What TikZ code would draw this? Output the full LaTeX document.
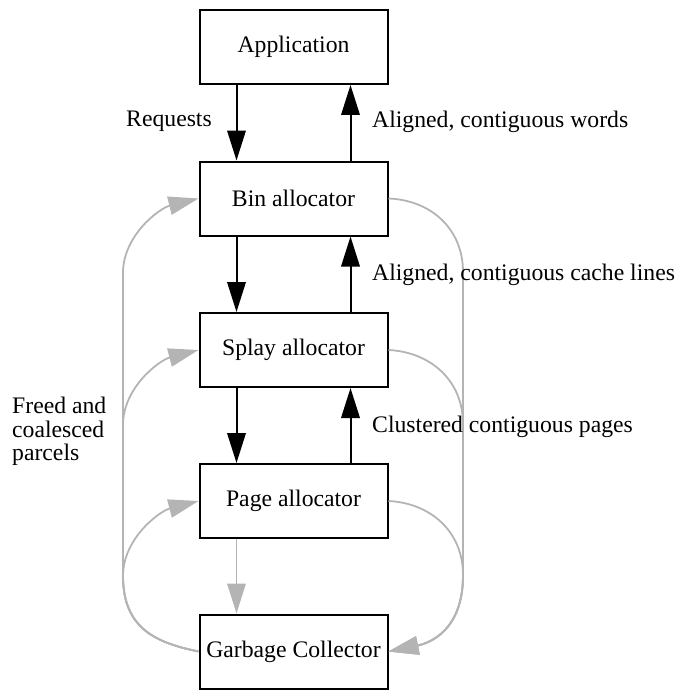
\documentclass[tikz,border=0pt]{standalone}
\usepackage{fontspec}
\setmainfont{Liberation Serif}
\usetikzlibrary{arrows.meta}
\definecolor{edgegray}{RGB}{180,180,180}
\tikzset{
  box/.style={draw=black, line width=2pt, minimum width=188pt, minimum height=74pt, inner sep=0pt, font=\fontsize{23.7}{24}\selectfont},
  lbl/.style={inner sep=0pt, font=\fontsize{23.7}{24}\selectfont},
  flow/.style={draw=black, line width=2pt, -{Triangle[length=30pt,width=18.5pt]}},
  back/.style={draw=edgegray, line width=1.8pt, -{Triangle[length=30pt,width=18.5pt]}, color=edgegray},
}
\begin{document}
\begin{tikzpicture}[x=1pt, y=-1pt]
\useasboundingbox (0,0) rectangle (678,690);
\node[box] (app) at (293.5,47) {Application};
\node[box] (bin) at (293.5,198.5) {Bin allocator};
\node[box] (splay) at (293.5,350) {Splay allocator};
\node[box] (page) at (293.5,501) {Page allocator};
\node[box] (gc) at (293.5,651.5) {Garbage Collector};

% black flows
\draw[flow] ([xshift=38pt]app.south west) -- ([xshift=38pt]bin.north west);
\draw[flow] ([xshift=-38pt]bin.north east) -- ([xshift=-38pt]app.south east);
\draw[flow] ([xshift=38pt]bin.south west) -- ([xshift=38pt]splay.north west);
\draw[flow] ([xshift=-38pt]splay.north east) -- ([xshift=-38pt]bin.south east);
\draw[flow] ([xshift=38pt]splay.south west) -- ([xshift=38pt]page.north west);
\draw[flow] ([xshift=-38pt]page.north east) -- ([xshift=-38pt]splay.south east);

% gray page -> gc
\draw[back] ([xshift=38pt]page.south west) -- ([xshift=38pt]gc.north west);

% gray left: gc -> bin, splay, page
\draw[back] (gc.west) .. controls (158,643) and (123,630) .. (123,576) -- (123,273) .. controls (123,235) and (160,208) .. (bin.west);
\draw[back] (gc.west) .. controls (158,643) and (123,630) .. (123,576) -- (123,425) .. controls (123,387) and (160,360) .. (splay.west);
\draw[back] (gc.west) .. controls (158,643) and (123,630) .. (123,576) .. controls (123,538) and (160,511) .. (page.west);

% gray right: bin, splay, page -> gc
\draw[back] (bin.east) .. controls (430,200) and (463,228) .. (463,272) -- (463,576) .. controls (463,630) and (430,643) .. (gc.east);
\draw[back] (splay.east) .. controls (430,352) and (463,380) .. (463,424) -- (463,576) .. controls (463,630) and (430,643) .. (gc.east);
\draw[back] (page.east) .. controls (430,503) and (463,531) .. (463,575) .. controls (463,630) and (430,643) .. (gc.east);

% labels
\node[lbl, anchor=base east] (lreq) at (212,127) {Requests};
\node[lbl, anchor=base west] (lwords) at (372,128) {Aligned, contiguous words};
\node[lbl, anchor=base west] (lcache) at (372,280) {Aligned, contiguous cache lines};
\node[lbl, anchor=base west] (lpages) at (372,432) {Clustered contiguous pages};
\node[lbl, anchor=base west] (lfree1) at (12,413) {Freed and};
\node[lbl, anchor=base west] (lfree2) at (12,437) {coalesced};
\node[lbl, anchor=base west] (lfree3) at (12,460) {parcels};
\end{tikzpicture}
\end{document}
